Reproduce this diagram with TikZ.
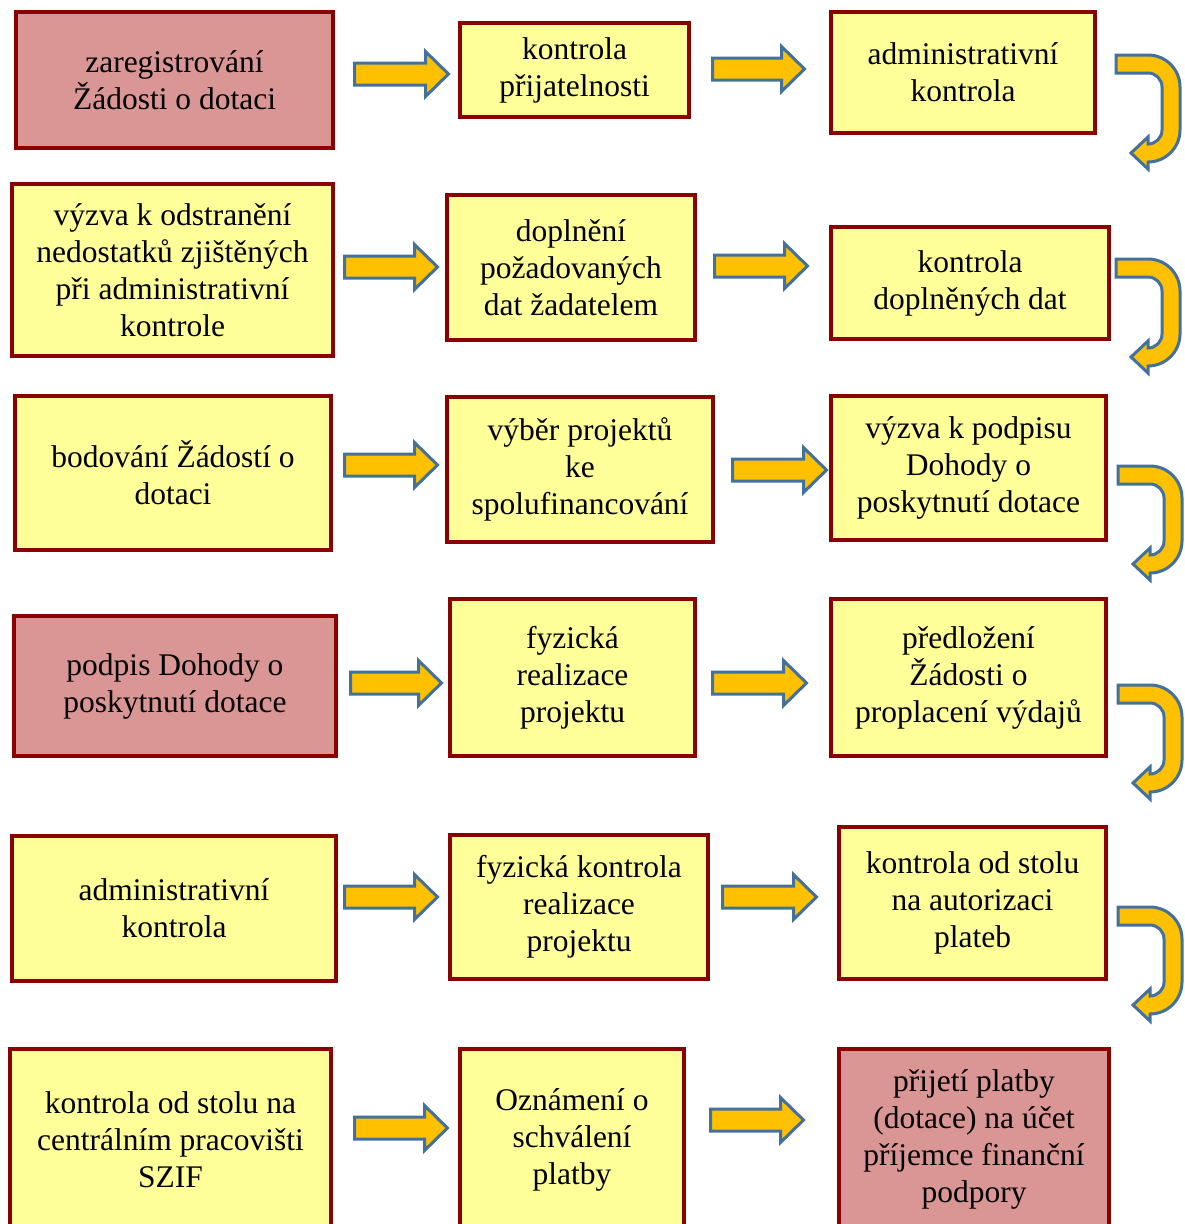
\documentclass[tikz,border=0pt]{standalone}
\usepackage{fontspec}
\setmainfont{Liberation Serif}
\newfontfamily\boxfont{Liberation Serif}
\definecolor{boxyellow}{HTML}{FFFF99}
\definecolor{boxpink}{HTML}{D99694}
\definecolor{boxborder}{HTML}{8B0000}
\definecolor{arrfill}{HTML}{FFC000}
\definecolor{arrline}{HTML}{41719C}
\tikzset{
  stepbox/.style={draw=boxborder, line width=4pt, fill=boxyellow, align=center, inner sep=0pt,
    font=\boxfont\fontsize{31.5}{37}\selectfont},
  pinkbox/.style={stepbox, fill=boxpink},
  barrow/.style={draw=arrline, fill=arrfill, line width=3pt, line join=miter},
  uarrow/.style={draw=arrline, fill=arrfill, line width=3pt, line join=miter}
}
\newcommand{\boxat}[7]{% style, name, cx, cy, w, h, text
  \node[#1, minimum width=#5pt-4pt, minimum height=#6pt-4pt] (#2) at (#3,#4) {#7};}
\newcommand{\arrowat}[4]{% name, left x, center y, length
  \begin{scope}[shift={(#2+1.5,#3)}]
  \coordinate (#1) at ({(#4-3)/2},0);
  \draw[barrow] (0,-11) -- ({#4-3-23},-11) -- ({#4-3-23},-22.5) -- ({#4-3},0)
    -- ({#4-3-23},22.5) -- ({#4-3-23},11) -- (0,11) -- cycle;
  \end{scope}}
\newcommand{\uturn}[2]{% top-left x, y
  \begin{scope}[shift={(#1,#2)}]
  \draw[uarrow] (0,0) -- (32,0) .. controls (49.7,0) and (64,14.3) .. (64,32)
    -- (64,75) .. controls (64,92.7) and (49.7,107) .. (32,107)
    -- (32,114) -- (15,98) -- (32,82) -- (32,89)
    .. controls (39.7,89) and (46,82.7) .. (46,75)
    -- (46,32) .. controls (46,24.3) and (39.7,18) .. (32,18)
    -- (0,18) -- cycle;
  \end{scope}}
\begin{document}
\begin{tikzpicture}[x=1pt, y=-1pt]
\useasboundingbox (0,0) rectangle (1185,1224);
\fill[white] (0,0) rectangle (1185,1224);
\clip (0,0) rectangle (1185,1224);
% row 1
\boxat{pinkbox}{b1}{174.5}{80}{321}{140}{zaregistrování\\Žádosti o dotaci}
\boxat{stepbox}{b2}{574.5}{70}{233}{98}{kontrola\\přijatelnosti}
\boxat{stepbox}{b3}{963}{72.5}{268}{125}{administrativní\\kontrola}
% row 2
\boxat{stepbox}{b4}{172.5}{270}{325}{176}{výzva k odstranění\\nedostatků zjištěných\\při administrativní\\kontrole}
\boxat{stepbox}{b5}{571}{267.5}{252}{149}{doplnění\\požadovaných\\dat žadatelem}
\boxat{stepbox}{b6}{970}{283}{282}{116}{kontrola\\doplněných dat}
% row 3
\boxat{stepbox}{b7}{173}{473}{320}{158}{bodování Žádostí o\\dotaci}
\boxat{stepbox}{b8}{580}{469.5}{270}{149}{výběr projektů\\ke\\spolufinancování}
\boxat{stepbox}{b9}{968.5}{468}{279}{148}{výzva k podpisu\\Dohody o\\poskytnutí dotace}
% row 4
\boxat{pinkbox}{b10}{175}{686}{326}{144}{podpis Dohody o\\poskytnutí dotace}
\boxat{stepbox}{b11}{572.5}{677.5}{249}{161}{fyzická\\realizace\\projektu}
\boxat{stepbox}{b12}{968.5}{677.5}{279}{161}{předložení\\Žádosti o\\proplacení výdajů}
% row 5
\boxat{stepbox}{b13}{174}{908.5}{328}{149}{administrativní\\kontrola}
\boxat{stepbox}{b14}{579}{907}{262}{148}{fyzická kontrola\\realizace\\projektu}
\boxat{stepbox}{b15}{972.5}{903}{271}{156}{kontrola od stolu\\na autorizaci\\plateb}
% row 6
\boxat{stepbox}{b16}{170.5}{1139.5}{325}{185}{kontrola od stolu na\\centrálním pracovišti\\SZIF}
\boxat{stepbox}{b17}{572}{1139.5}{228}{185}{Oznámení o\\schválení\\platby}
\boxat{pinkbox}{b18}{974}{1139.5}{274}{185}{přijetí platby\\(dotace) na účet\\příjemce finanční\\podpory}
% straight block arrows
\arrowat{a1}{353}{74}{97}
\arrowat{a2}{711}{69}{95}
\arrowat{a3}{343}{267}{96}
\arrowat{a4}{713}{266}{96}
\arrowat{a5}{343}{465}{96}
\arrowat{a6}{731}{470}{97}
\arrowat{a7}{349}{683}{94}
\arrowat{a8}{711}{683}{97}
\arrowat{a9}{343}{897}{96}
\arrowat{a10}{721}{897}{97}
\arrowat{a11}{353}{1128}{96}
\arrowat{a12}{709}{1120}{96}
% u-turn arrows
\uturn{1116}{55}
\uturn{1116}{259}
\uturn{1118}{466}
\uturn{1118}{685}
\uturn{1118}{907}
\end{tikzpicture}
\end{document}
